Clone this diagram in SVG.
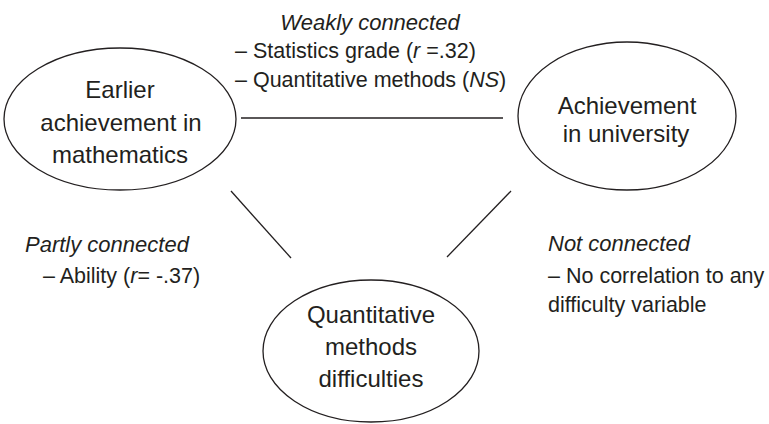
<svg xmlns="http://www.w3.org/2000/svg" width="769" height="424" viewBox="0 0 769 424">
<style>
.node{fill:#fff;stroke:#231f20;stroke-width:1.3}
.edge{stroke:#231f20;stroke-width:1.3;fill:none}
.nt{font-family:"Liberation Sans",Arial,sans-serif;font-size:24px;fill:#231f20;text-anchor:middle}
.lh{font-family:"Liberation Sans",Arial,sans-serif;font-size:22px;font-style:italic;fill:#231f20}
.lt{font-family:"Liberation Sans",Arial,sans-serif;font-size:21.5px;fill:#231f20}
</style>
<rect width="769" height="424" fill="#fff"/>
<g id="connectors">
<line class="edge" x1="241" y1="118" x2="503" y2="118"/>
<line class="edge" x1="231" y1="191" x2="291" y2="258"/>
<line class="edge" x1="511" y1="191" x2="447" y2="257"/>
</g>
<g id="node-earlier">
<ellipse class="node" cx="120" cy="119" rx="116" ry="71"/>
<text class="nt" x="120" y="98">Earlier</text>
<text class="nt" x="121" y="131">achievement in</text>
<text class="nt" x="120" y="163">mathematics</text>
</g>
<g id="node-university">
<ellipse class="node" cx="627" cy="116" rx="109" ry="74"/>
<text class="nt" x="627" y="114">Achievement</text>
<text class="nt" x="626" y="142">in university</text>
</g>
<g id="node-difficulties">
<ellipse class="node" cx="371" cy="351" rx="108" ry="71"/>
<text class="nt" x="371" y="323">Quantitative</text>
<text class="nt" x="371" y="355">methods</text>
<text class="nt" x="371" y="387">difficulties</text>
</g>
<g id="label-weak">
<text class="lh" x="370" y="30" text-anchor="middle">Weakly connected</text>
<text class="lt" x="235" y="58">– Statistics grade (<tspan font-style="italic">r</tspan> =.32)</text>
<text class="lt" x="235" y="87">– Quantitative methods (<tspan font-style="italic">NS</tspan>)</text>
</g>
<g id="label-partly">
<text class="lh" x="25" y="252">Partly connected</text>
<text class="lt" x="43" y="283">– Ability (<tspan font-style="italic">r</tspan>= -.37)</text>
</g>
<g id="label-not">
<text class="lh" x="548" y="251">Not connected</text>
<text class="lt" x="548" y="283">– No correlation to any</text>
<text class="lt" x="548" y="312">difficulty variable</text>
</g>
</svg>
